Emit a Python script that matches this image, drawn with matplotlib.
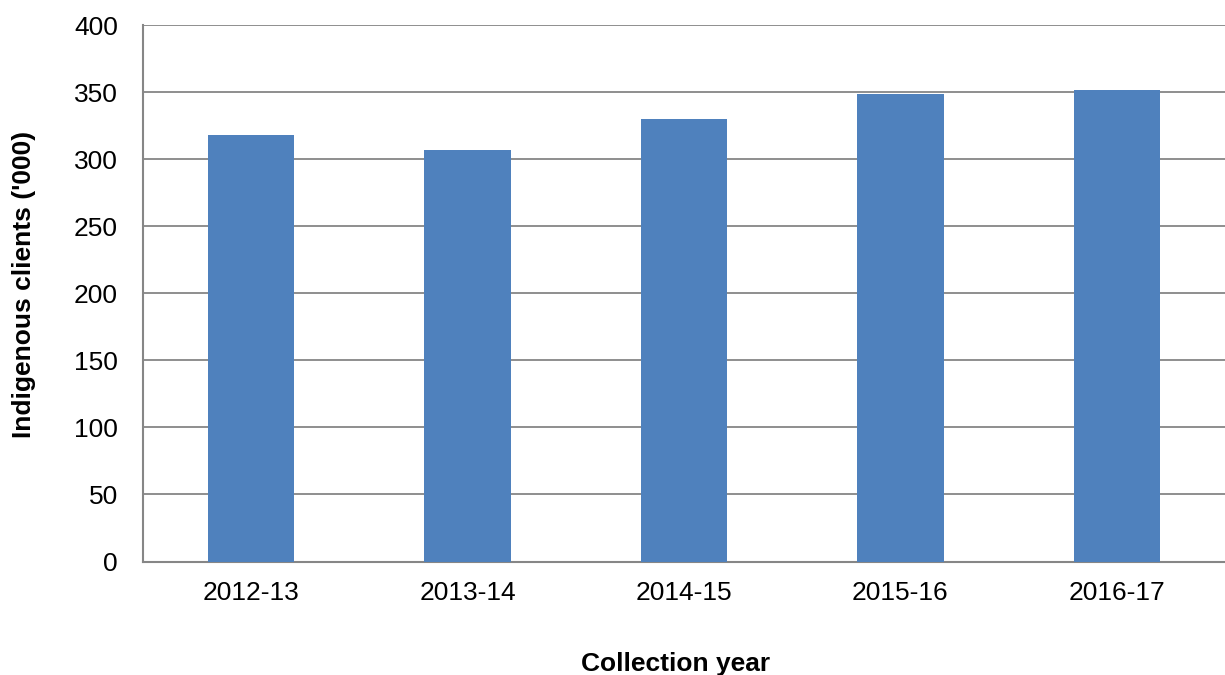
import numpy as np
import matplotlib.pyplot as plt

plt.rcParams['font.family'] = ['Liberation Sans', 'DejaVu Sans']

years = ['2012-13', '2013-14', '2014-15', '2015-16', '2016-17']
clients = [318, 307, 330, 349, 352]

bar_colour = '#4F81BD'
grid_colour = '#868686'

fig = plt.figure(figsize=(12.25, 6.75), dpi=100)
ax = fig.add_axes([143 / 1225, 1 - 561.5 / 675, 1 - 143 / 1225, (561.5 - 25.3) / 675])

x = np.arange(len(years))
ax.bar(x, clients, width=0.4, color=bar_colour, zorder=3)

ax.set_xlim(-0.5, len(years) - 0.5)
ax.set_ylim(0, 400)
ax.set_yticks(np.arange(0, 401, 50))
ax.set_xticks(x)
ax.set_xticklabels(years)

ax.yaxis.grid(True, color=grid_colour, linewidth=1.3, zorder=0)
ax.set_axisbelow(True)
for side in ['top', 'right']:
    ax.spines[side].set_visible(False)
for side in ['left', 'bottom']:
    ax.spines[side].set_color(grid_colour)
    ax.spines[side].set_linewidth(1.5)

ax.tick_params(axis='y', length=0, pad=18, labelsize=19)
ax.tick_params(axis='x', length=0, pad=14, labelsize=19)

ax.set_ylabel("Indigenous clients ('000)", fontsize=19, fontweight='bold')
ax.set_xlabel('Collection year', fontsize=19, fontweight='bold')
# label centres sit a little off the axes centre
ax.yaxis.set_label_coords(-0.099, 0.516)
ax.xaxis.set_label_coords(0.4926, -0.169)

fig.savefig('out.png', dpi=100)
